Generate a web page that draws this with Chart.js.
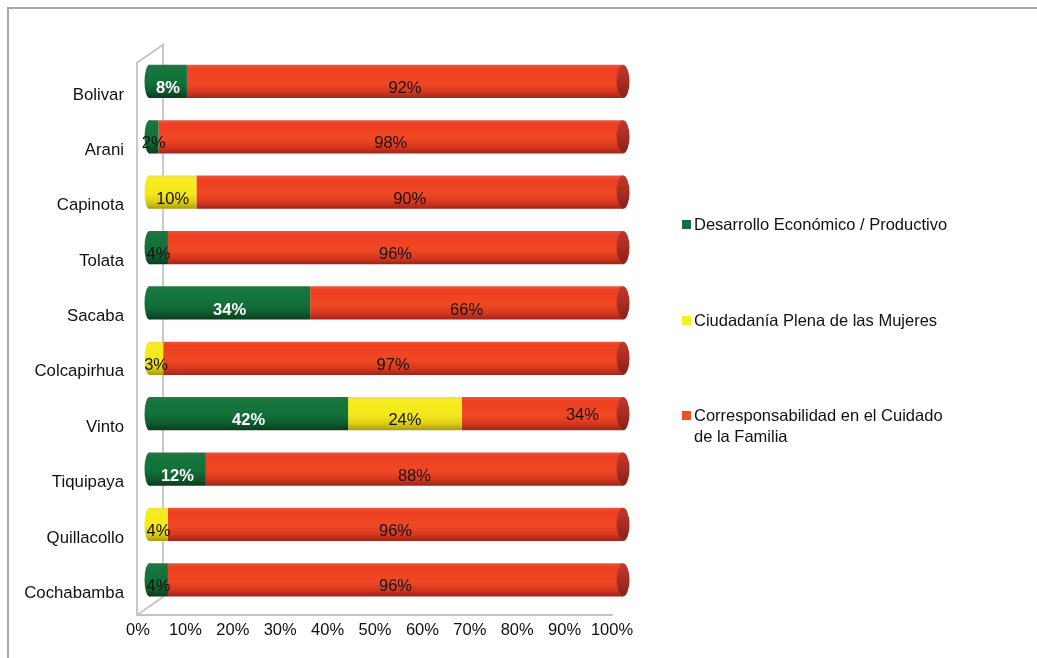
<!DOCTYPE html>
<html><head><meta charset="utf-8">
<script src="https://cdn.jsdelivr.net/npm/chart.js@4.4.0/dist/chart.umd.min.js"></script>
<style>html,body{margin:0;padding:0;background:#fff;}#wrap{position:relative;width:1037px;height:658px;}canvas{display:block;}</style>
</head><body><div id="wrap"><canvas id="c" width="1037" height="658" style="width:1037px;height:658px"></canvas></div>
<script>
const categories = ['Bolivar','Arani','Capinota','Tolata','Sacaba','Colcapirhua','Vinto','Tiquipaya','Quillacollo','Cochabamba'];
const seriesNames = ['Desarrollo Económico / Productivo','Ciudadanía Plena de las Mujeres','Corresponsabilidad en el Cuidado de la Familia'];
const legendLines = [['Desarrollo Económico / Productivo'],['Ciudadanía Plena de las Mujeres'],['Corresponsabilidad en el Cuidado','de la Familia']];
const desarrollo = [8,2,0,4,34,0,42,12,0,4];
const ciudadania = [0,0,10,0,0,3,24,0,4,0];
const corresponsabilidad = [92,98,90,96,66,97,34,88,96,96];
const xTickLabels = ['0%','10%','20%','30%','40%','50%','60%','70%','80%','90%','100%'];

const FONT = "'Liberation Sans', Arial, Helvetica, sans-serif";
Chart.defaults.font.family = FONT;

const FLAT = ['#13703a','#f5e81a','#ee4423'];
const LEGEND_COL = ['#13703a','#f8ee20','#ee5024'];
const STOPS = [
  [[0,'#2a7446'],[0.12,'#17753e'],[0.55,'#12703a'],[0.8,'#0f5a2e'],[1,'#0a3b1d']],
  [[0,'#ece04a'],[0.12,'#f7ec1e'],[0.55,'#f5e81a'],[0.8,'#dccd16'],[1,'#a89a10']],
  [[0,'#e8573f'],[0.12,'#ee3f22'],[0.55,'#f04823'],[0.8,'#d8381f'],[1,'#9e2419']]
];
const BAR_PCT = 0.6;

function barGeom(chart, i){
  const y = chart.scales.y;
  const yc = y.getPixelForValue(i);
  const band = Math.abs(y.getPixelForValue(1) - y.getPixelForValue(0));
  const h = band * BAR_PCT;
  return {yc, h};
}
function makeGrad(ctx, top, bottom, stops){
  const g = ctx.createLinearGradient(0, top, 0, bottom);
  stops.forEach(s => g.addColorStop(s[0], s[1]));
  return g;
}
function barFill(c, di){
  const chart = c.chart;
  if (!chart.chartArea || !chart.scales || !chart.scales.y || c.dataIndex === undefined) return FLAT[di];
  const {yc, h} = barGeom(chart, c.dataIndex);
  return makeGrad(chart.ctx, yc - h/2, yc + h/2, STOPS[di]);
}

const allSeries = [desarrollo, ciudadania, corresponsabilidad];

const decorPlugin = {
  id: 'decor',
  beforeDatasetsDraw(chart){
    const ctx = chart.ctx, a = chart.chartArea;
    ctx.save();
    ctx.strokeStyle = '#a8a8a8'; ctx.lineWidth = 2;
    ctx.beginPath(); ctx.moveTo(8, 658); ctx.lineTo(8, 8); ctx.lineTo(1037, 8); ctx.stroke();
    const fx = a.left - 12, bx = a.left + 14;
    const fTop = a.top + 9, bTop = a.top - 9;
    const fBot = a.bottom + 7.5, bBot = a.bottom - 10.5;
    ctx.strokeStyle = '#c4c4c4'; ctx.lineWidth = 1.8;
    ctx.beginPath();
    ctx.moveTo(a.right - 10, fBot); ctx.lineTo(fx, fBot); ctx.lineTo(fx, fTop); ctx.lineTo(bx, bTop); ctx.lineTo(bx, bBot); ctx.lineTo(fx, fBot);
    ctx.stroke();
    categories.forEach((cat, i) => {
      let first = -1;
      for (let d = 0; d < allSeries.length; d++) { if (allSeries[d][i] > 0) { first = d; break; } }
      if (first < 0) return;
      const el = chart.getDatasetMeta(first).data[i];
      const {yc, h} = barGeom(chart, i);
      ctx.fillStyle = makeGrad(ctx, yc - h/2, yc + h/2, STOPS[first]);
      ctx.beginPath(); ctx.ellipse(el.base + 0.5, yc, 5, h/2, 0, 0, Math.PI*2); ctx.fill();
    });
    ctx.restore();
  },
  afterDatasetsDraw(chart, args, opts){
    const ctx = chart.ctx;
    ctx.save();
    categories.forEach((cat, i) => {
      let last = -1;
      for (let d = allSeries.length - 1; d >= 0; d--) { if (allSeries[d][i] > 0) { last = d; break; } }
      if (last < 0) return;
      const el = chart.getDatasetMeta(last).data[i];
      const {yc, h} = barGeom(chart, i);
      ctx.fillStyle = makeGrad(ctx, yc - h/2, yc + h/2, [[0,'#c0392b'],[0.5,'#ab2c22'],[1,'#8a1f17']]);
      ctx.beginPath(); ctx.ellipse(el.x, yc, 6.5, h/2, 0, 0, Math.PI*2); ctx.fill();
      ctx.strokeStyle = 'rgba(200,70,50,0.6)'; ctx.lineWidth = 1;
      ctx.beginPath(); ctx.ellipse(el.x, yc, 6.5, h/2 - 0.5, 0, Math.PI*0.5, Math.PI*1.5); ctx.stroke();
    });
    ctx.textAlign = 'center'; ctx.textBaseline = 'middle';
    const nudge = opts.nudge || {};
    allSeries.forEach((ser, d) => {
      const meta = chart.getDatasetMeta(d);
      ser.forEach((v, i) => {
        if (!(v > 0)) return;
        const el = meta.data[i];
        const {yc} = barGeom(chart, i);
        let x = (el.base + el.x) / 2, y = yc + 7;
        const n = nudge[i + '-' + d];
        if (n) { x += n[0]; y += n[1]; }
        const strong = d === 0 && v >= 6;
        ctx.font = (strong ? 'bold ' : '') + '16.5px ' + FONT;
        ctx.fillStyle = strong ? '#ffffff' : '#111111';
        ctx.fillText(v + '%', x, y);
      });
    });
    const lx = 682, tx = 694, ys = [224.5, 320.5, 415.5];
    ctx.textAlign = 'left'; ctx.textBaseline = 'middle';
    ctx.font = '16.5px ' + FONT;
    legendLines.forEach((lines, k) => {
      ctx.fillStyle = LEGEND_COL[k];
      ctx.fillRect(lx, ys[k] - 4.5, 9, 9);
      ctx.fillStyle = '#111111';
      lines.forEach((t, j) => ctx.fillText(t, tx, ys[k] + 1 + j * 21));
    });
    ctx.restore();
  }
};

const chart = new Chart(document.getElementById('c'), {
  type: 'bar',
  data: {
    labels: categories,
    datasets: allSeries.map((ser, d) => ({
      label: seriesNames[d],
      data: ser,
      backgroundColor: (c) => barFill(c, d),
      borderWidth: 0,
      barPercentage: BAR_PCT,
      categoryPercentage: 1
    }))
  },
  options: {
    indexAxis: 'y',
    responsive: false,
    animation: false,
    devicePixelRatio: 1,
    layout: { padding: { top: 53.8, right: 1037 - 623, bottom: 10.5, left: 0 } },
    plugins: {
      legend: { display: false },
      tooltip: { enabled: false },
      decor: { nudge: { '6-2': [40, -5] } }
    },
    scales: {
      x: {
        stacked: true, min: 0, max: 100,
        grid: { display: false, drawTicks: false },
        border: { display: false },
        ticks: {
          stepSize: 10, labelOffset: -11, padding: 13, color: '#111111',
          font: { size: 16.5, family: FONT },
          maxRotation: 0, autoSkip: false,
          callback: (v) => xTickLabels[Math.round(v / 10)]
        },
        afterFit: (s) => { s.height = 40; }
      },
      y: {
        stacked: true,
        grid: { display: false, drawTicks: false },
        border: { display: false },
        ticks: { labelOffset: 13.5, padding: 25, color: '#111111', font: { size: 16.8, family: FONT } },
        afterFit: (s) => { s.width = 149; }
      }
    }
  },
  plugins: [decorPlugin]
});
</script>
</body></html>
